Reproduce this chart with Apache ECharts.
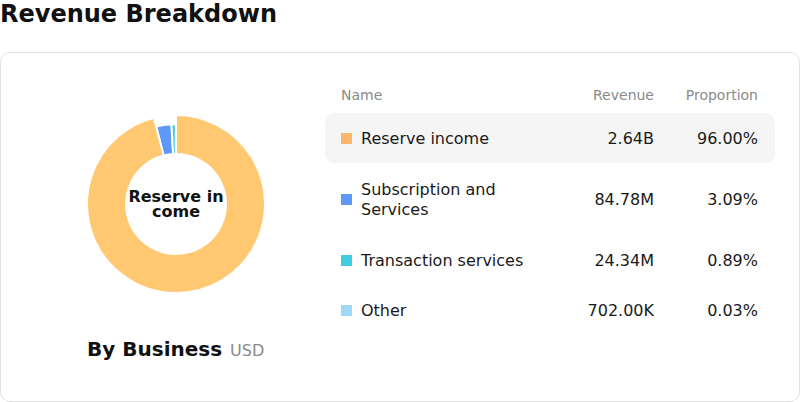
<!DOCTYPE html>
<html lang="en">

<head>
    <meta charset="UTF-8">
    <title>Revenue Breakdown</title>
    <script src="https://cdn.jsdelivr.net/npm/echarts@6/dist/echarts.min.js"></script>
    <style>
        body,
        html {
            background-color: #fff;
            width: 100%;
            height: 100%;
            margin: 0;
            font-family: "DejaVu Sans", sans-serif;
            overflow: hidden;
        }

        #title {
            position: absolute;
            left: 0;
            top: 0;
            font-size: 24px;
            font-weight: bold;
            color: #111;
        }

        #card {
            position: absolute;
            left: 0;
            top: 52px;
            width: 798px;
            height: 348px;
            border: 1px solid #e2e2e2;
            border-radius: 10px;
        }

        #pie {
            position: absolute;
            left: 0;
            top: 0;
            width: 350px;
            height: 270px;
        }

        #caption {
            position: absolute;
            left: 86px;
            top: 284px;
            font-size: 20px;
            font-weight: bold;
            color: #111;
        }

        #caption span {
            font-size: 16px;
            font-weight: normal;
            color: #8a8a8a;
            margin-left: 8px;
        }

        .cell {
            position: absolute;
            display: flex;
            align-items: center;
            color: #1a1a1a;
            font-size: 16px;
            line-height: 20px;
        }

        .head {
            color: #8a8a8a;
            font-size: 14px;
        }

        .sq {
            position: absolute;
            width: 11px;
            height: 11px;
        }
    </style>
</head>

<body>
    <div id="title">Revenue Breakdown</div>
    <div id="card">
        <div id="pie"></div>
        <div id="caption">By Business<span>USD</span></div>
        <div id="table"></div>
    </div>
    <script>
        // 数据
        var names = ['Reserve income', 'Subscription and Services', 'Transaction services', 'Other'];
        var revenue = [2640000000, 84780000, 24340000, 702000];
        var revenueText = ['2.64B', '84.78M', '24.34M', '702.00K'];
        var shareText = ['96.00%', '3.09%', '0.89%', '0.03%'];
        var colors = ['#FBB667', '#5F98F7', '#3FCDE2', '#9CD8F8'];
        var headers = ['Name', 'Revenue', 'Proportion'];

        // 表格 (card 坐标)
        var rowTop = [60, 110, 182, 232];
        var rowH = [50, 72, 50, 50];
        var table = document.getElementById('table');
        var html = '';
        html += '<div class="cell head" style="left:340px;top:32px;height:20px">' + headers[0] + '</div>';
        html += '<div class="cell head" style="left:553px;width:100px;justify-content:flex-end;top:32px;height:20px">' + headers[1] + '</div>';
        html += '<div class="cell head" style="left:657px;width:100px;justify-content:flex-end;top:32px;height:20px">' + headers[2] + '</div>';
        html += '<div style="position:absolute;left:324px;top:60px;width:450px;height:50px;background:#f5f5f5;border-radius:9px"></div>';
        names.forEach(function (n, i) {
            var t = rowTop[i], h = rowH[i];
            html += '<div class="sq" style="left:340px;top:' + (t + h / 2 - 5) + 'px;background:' + colors[i] + '"></div>';
            html += '<div class="cell" style="left:360px;width:172px;top:' + (t + 1) + 'px;height:' + h + 'px">' + n + '</div>';
            html += '<div class="cell" style="left:503px;width:150px;justify-content:flex-end;top:' + (t + 1) + 'px;height:' + h + 'px">' + revenueText[i] + '</div>';
            html += '<div class="cell" style="left:607px;width:150px;justify-content:flex-end;top:' + (t + 1) + 'px;height:' + h + 'px">' + shareText[i] + '</div>';
        });
        table.innerHTML = html;

        var option = {
            animation: false,
            color: colors,
            series: [
                {
                    type: 'pie',
                    center: [175, 151],
                    radius: [50, 80],
                    startAngle: 90,
                    avoidLabelOverlap: false,
                    itemStyle: {
                        borderColor: '#fff',
                        borderWidth: 2
                    },
                    label: {
                        show: false,
                        position: 'center'
                    },
                    labelLine: { show: false },
                    emphasis: {
                        scale: true,
                        scaleSize: 9,
                        label: {
                            show: true,
                            fontFamily: 'DejaVu Sans',
                            fontSize: 16,
                            fontWeight: 'bold',
                            color: '#111',
                            lineHeight: 15,
                            width: 100,
                            overflow: 'breakAll',
                            formatter: '{b}'
                        }
                    },
                    data: names.map(function (n, i) {
                        return { name: n, value: revenue[i] };
                    })
                }
            ]
        };
        var myChart = echarts.init(document.getElementById('pie'), null, { renderer: 'svg' });
        myChart.setOption(option);
        myChart.dispatchAction({ type: 'highlight', seriesIndex: 0, dataIndex: 0 });
    </script>
</body>

</html>
